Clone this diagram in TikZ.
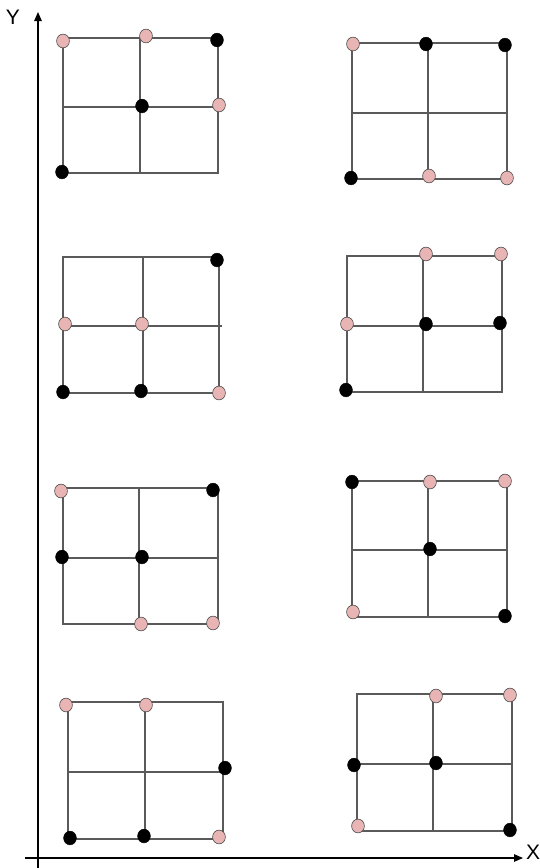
\documentclass[tikz,border=0pt]{standalone}
\usepackage{fontspec}
\setmainfont{Liberation Sans}
\usetikzlibrary{shapes.geometric,arrows.meta}
\definecolor{pinkdot}{HTML}{E8B4B4}
\definecolor{gridline}{HTML}{5A5A5A}
\newcommand\gridbox[6]{%
  \draw[gridln] (#1,#4) rectangle (#3,#6);
  \draw[gridln] (#2,#4) -- (#2,#6);
  \draw[gridln] (#1,#5) -- (#3,#5);
}
\begin{document}
\begin{tikzpicture}[x=1pt,y=-1pt,
  gridln/.style={draw=gridline,line width=1.1pt},
  pd/.style={ellipse,draw=black!70,line width=0.6pt,fill=pinkdot,minimum width=12.8pt,minimum height=13.8pt,inner sep=0pt},
  bd/.style={ellipse,draw=black,fill=black,minimum width=12.8pt,minimum height=13.8pt,inner sep=0pt},
  axis/.style={draw=black,line width=1.2pt,-{Triangle[length=9pt,width=7.5pt]}},
  lbl/.style={font=\fontsize{21}{21}\selectfont,inner sep=0pt}]
\useasboundingbox (0,0) rectangle (539,868);
% axes
\coordinate (yb) at (38,868);
\coordinate (yt) at (38,12);
\coordinate (xl) at (25,858);
\coordinate (xr) at (523,858);
\draw[axis] (yb) -- (yt);
\draw[axis] (xl) -- (xr);
\node[lbl] (ylab) at (13,17) {Y};
\node[lbl] (xlab) at (533,852) {X};
% grid 1
\gridbox{63}{140}{218}{38}{107}{173}
\node[pd] (g1a) at (63,41) {};
\node[pd] (g1b) at (146,36) {};
\node[bd] (g1c) at (217,40) {};
\node[bd] (g1d) at (142,106) {};
\node[pd] (g1e) at (219,105) {};
\node[bd] (g1f) at (62,172) {};
% grid 2
\gridbox{352}{428}{507}{43}{113}{179}
\node[pd] (g2a) at (353,44) {};
\node[bd] (g2b) at (426,44) {};
\node[bd] (g2c) at (505,45) {};
\node[bd] (g2d) at (351,178) {};
\node[pd] (g2e) at (429,176) {};
\node[pd] (g2f) at (507,178) {};
% grid 3
\gridbox{63}{143}{219}{257}{326}{393}
\draw[gridln] (219,326) -- (222,326);
\node[bd] (g3a) at (217,260) {};
\node[pd] (g3b) at (65,324) {};
\node[pd] (g3c) at (142,324) {};
\node[bd] (g3d) at (63,392) {};
\node[bd] (g3e) at (141,391) {};
\node[pd] (g3f) at (219,393) {};
% grid 4
\gridbox{347}{423}{502}{256}{326}{392}
\node[pd] (g4a) at (426,254) {};
\node[pd] (g4b) at (501,254) {};
\node[pd] (g4c) at (347,324) {};
\node[bd] (g4d) at (426,324) {};
\node[bd] (g4e) at (500,323) {};
\node[bd] (g4f) at (346,390) {};
% grid 5
\gridbox{63}{139}{218}{488}{558}{624}
\node[pd] (g5a) at (61,491) {};
\node[bd] (g5b) at (213,490) {};
\node[bd] (g5c) at (62,557) {};
\node[bd] (g5d) at (142,557) {};
\node[pd] (g5e) at (141,624) {};
\node[pd] (g5f) at (213,623) {};
% grid 6
\gridbox{352}{428}{507}{481}{550}{617}
\node[bd] (g6a) at (352,482) {};
\node[pd] (g6b) at (430,482) {};
\node[pd] (g6c) at (505,481) {};
\node[bd] (g6d) at (430,549) {};
\node[pd] (g6e) at (353,612) {};
\node[bd] (g6f) at (505,616) {};
% grid 7
\gridbox{68}{145}{223}{702}{772}{839}
\node[pd] (g7a) at (66,705) {};
\node[pd] (g7b) at (146,705) {};
\node[bd] (g7c) at (225,768) {};
\node[bd] (g7d) at (70,838) {};
\node[bd] (g7e) at (144,836) {};
\node[pd] (g7f) at (219,837) {};
% grid 8
\gridbox{357}{433}{512}{694}{764}{831}
\node[pd] (g8a) at (436,696) {};
\node[pd] (g8b) at (510,695) {};
\node[bd] (g8c) at (354,765) {};
\node[bd] (g8d) at (436,763) {};
\node[pd] (g8e) at (358,826) {};
\node[bd] (g8f) at (510,830) {};
\end{tikzpicture}
\end{document}
